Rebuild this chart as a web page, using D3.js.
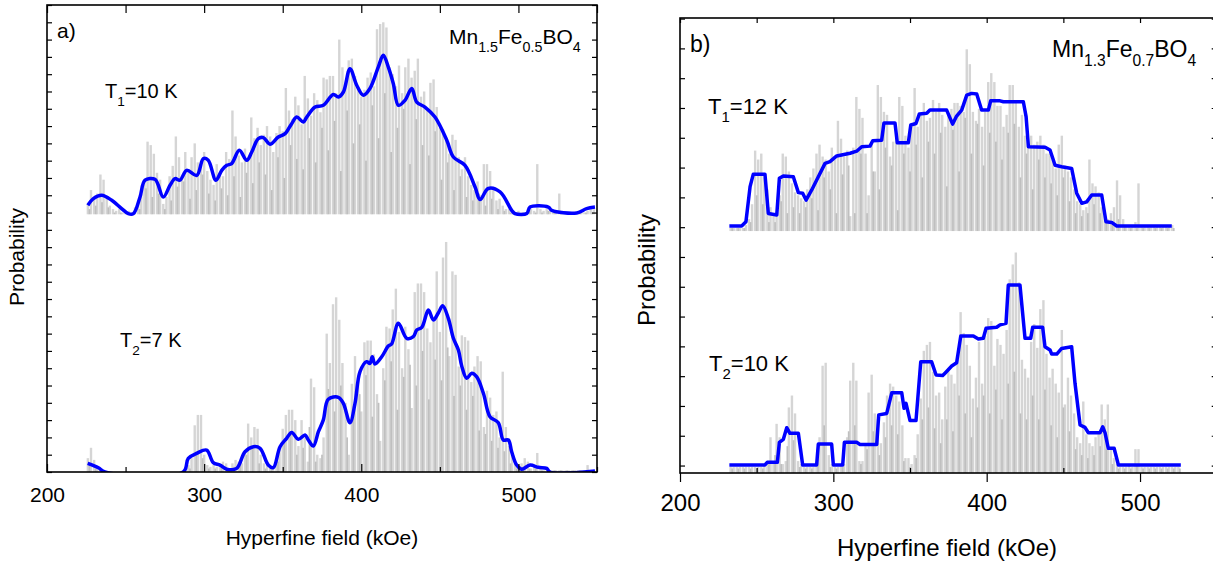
<!DOCTYPE html>
<html>
<head>
<meta charset="utf-8">
<script src="https://cdn.jsdelivr.net/npm/d3@7"></script>
<style>
  body { margin: 0; background: #fff; }
  text { font-family: "Liberation Sans", Arial, sans-serif; fill: #000; }
</style>
</head>
<body>
<svg id="chart" width="1213" height="562"></svg>
<script>
// ---------- panel a) Mn1.5Fe0.5BO4 ----------
// bar heights in tick units, light bars every 2 kOe, dark bars every 4 kOe
const aT1BarStart = 226;
const aT1Bars = [
  0.6,1.4,0.9,1.2,2.3,2.0,1.0,0.5,0.3,0.2,
  0.3,0.1,0.1,0.2,0.1,0.4,0.8,1.2,2.0,4.2,
  4.0,3.5,2.4,2.0,0.6,1.0,2.2,2.8,4.5,3.3,
  2.2,3.6,2.6,3.3,4.1,3.0,3.1,3.6,2.5,2.0,
  1.7,2.9,2.4,2.2,3.6,3.2,6.0,4.5,3.4,3.0,
  3.8,3.2,5.6,4.4,5.0,4.0,4.6,5.1,4.5,3.6,
  4.7,5.1,4.8,7.3,6.0,5.5,6.8,6.3,5.2,8.0,
  6.7,5.7,7.0,6.6,5.9,7.9,7.8,8.0,8.0,7.0,
  10.1,8.5,7.6,8.9,9.0,8.0,7.2,6.8,7.2,7.9,
  8.2,7.4,10.7,11.0,11.1,10.8,8.5,8.1,7.4,8.6,
  7.0,8.5,9.0,7.9,8.3,9.0,6.8,7.1,6.0,7.6,
  7.8,6.2,5.0,4.9,4.4,3.5,4.6,4.3,3.3,2.6,
  3.3,2.2,1.7,1.4,1.9,1.1,2.9,2.9,2.5,1.6,
  0.8,0.9,0.5,0.3,0.3,0.1,0.1,0.2,0.1,0.1,
  0.2,0.3,0.2,2.9,0.3,0.2,0.3,0.2,0.1,0.1,
  1.2,0.1,0.1,0.1,0.1,0.1,0.1,0.2,0.1,0.2,
  0.3,0.3
];
const aT1DarkStart = 227;
const aT1Dark = [
  0.3,0.5,0.7,0.4,0.1,0.1,0.1,0.1,0.3,1.5,
  1.0,1.2,0.3,0.8,1.6,1.9,0.9,1.4,2.3,1.2,
  0.8,1.5,1.1,2.2,1.0,2.4,1.8,3.0,2.3,1.4,
  3.3,2.1,4.0,3.2,2.6,4.4,3.0,5.0,3.7,5.4,
  2.5,6.0,4.1,5.2,3.1,6.3,4.4,7.0,3.6,5.0,
  6.1,2.9,5.5,4.0,3.4,4.8,2.0,3.0,1.4,2.2,
  1.0,0.8,1.2,0.5,0.9,0.3,0.2,0.1,0.1,0.1,
  0.2,0.1,0.1,0.2,0.1,0.1,0.1,0.1,0.1,0.1,
  0.1
];
const aT1LineField = [226,229.5,234.8,241.2,247.5,251.7,255,259.2,262.4,268.7,274,278.3,281.5,284.6,288.9,295.3,299.5,302.6,307.5,311.2,314.4,317.5,322.4,327.1,330.3,334.5,337.7,341.9,347.2,351.5,355.7,358.9,363.1,365.3,370.6,375.8,382.2,385.4,388.6,392.8,397.1,401.3,405.5,410.8,414,417.2,420.4,423.6,427.8,432.1,435.3,440.5,446.9,454.4,458.6,466,472.4,475.6,480.8,488.3,495.7,497.8,505.3,507.4,519,521.2,537.1,543.4,548.7];
const aT1Line = [0.52,0.91,1.1,0.81,0.33,0.04,0.04,1.0,1.97,2.02,1.0,1.68,2.06,1.97,2.54,2.25,3.22,3.12,1.97,2.54,2.83,2.93,3.7,3.12,3.6,4.38,4.43,4.05,4.47,4.66,5.24,5.62,5.34,5.62,6.2,6.3,6.93,6.78,7.07,8.42,7.46,6.88,7.27,8.51,9.19,8.51,7.55,6.3,6.59,7.27,6.49,6.2,5.62,4.28,3.31,2.83,1.58,0.85,1.49,1.29,0.23,0.04,0.04,0.42,0.42,0.23,0.08,0.33,0.42];

const aT2BarStart = 226;
const aT2Bars = [
  0.8,1.4,0.7,0.3,0.1,0,0,0,0,0,
  0,0,0,0,0,0,0,0,0,0,
  0,0,0,0,0,0,0,0,0,0,
  0,0.2,0.4,0.8,2.7,3.3,3.3,1.0,0.4,0.3,
  0.4,0.3,0.4,0.6,0.5,0.2,0.5,0.7,0.6,0.5,
  1.2,2.8,2.0,2.6,2.5,1.0,0.5,0.4,0.4,0.3,
  0.7,1.4,2.5,3.3,3.6,3.6,3.0,1.5,3.0,2.0,
  0.6,5.4,4.9,1.0,0.8,2.0,8.0,6.3,9.7,10.1,
  8.8,6.3,4.0,1.0,5.1,6.7,5.6,3.5,7.5,7.6,
  7.6,6.8,4.5,1.8,6.0,8.4,8.3,9.4,10.6,8.1,
  6.0,8.4,7.1,3.7,10.4,10.9,10.9,10.4,8.3,7.5,
  8.7,11.6,8.1,12.4,13.3,6.7,11.6,11.4,6.1,7.9,
  7.8,7.6,5.2,6.1,6.7,6.4,2.6,4.7,4.3,3.3,
  3.5,2.0,5.8,2.6,1.5,1.1,0.6,0.3,0.5,0.8,
  0.6,0.2,0.4,1.1,0.3,0.1,0.1,0.1,0.1,0.1,
  0.1,0.1,0.1,0.1,0.1,0.1,0.1,0.1,0.1,0.4,
  0.1,0.1
];
const aT2DarkStart = 227;
const aT2Dark = [
  0.4,0.2,0,0,0,0,0,0,0,0,
  0,0,0,0,0,0,0.2,1.2,0.8,0.2,
  0.2,0.3,0.2,0.3,0.4,1.0,1.5,0.5,0.2,0.2,
  0.6,1.8,2.2,1.0,1.4,2.6,0.6,1.0,4.8,3.5,
  5.0,2.0,3.8,4.5,5.6,3.2,4.0,5.3,6.4,3.6,
  5.5,6.2,5.0,7.0,4.2,6.5,5.3,7.2,4.4,5.0,
  3.6,4.4,2.4,2.2,1.8,1.4,1.2,0.5,0.2,0.3,
  0.2,0.2,0.1,0.1,0.1,0.1,0.1,0.1,0.1,0.1,
  0.1
];
const aT2LineField = [225.9,232.7,236.9,286.7,289.9,295.3,301.6,305.8,310.1,314.4,320.7,326,331.3,335.6,340.8,344,348.3,352.5,355.7,359.9,364.2,366.3,369.5,372.7,375.8,379,385.4,388.6,392.8,396,399.2,403.4,405.5,407,408.7,413,417.2,419.3,423.6,428.9,433.1,435.3,438.5,442.7,445.9,449.1,451.8,455.4,458.6,461.8,463.9,467.1,470.3,473.5,477.7,481.9,487.2,490.4,493.6,495.7,498.9,502.1,507.4,512.7,518,520.1,548.7];
const aT2Line = [0.5,0.25,0,0,0.79,1.08,1.27,0.54,0.4,0.16,0.21,1.17,1.46,1.37,0.4,0.25,1.46,1.95,2.29,1.89,2.14,1.85,1.5,2.33,3.0,4.2,4.32,3.97,2.85,3.97,5.8,6.38,6.28,6.66,6.24,6.66,7.28,7.4,8.6,7.73,7.82,8.21,8.36,9.36,8.79,9.21,9.61,8.88,7.73,7.05,6.13,5.42,5.71,5.5,4.55,3.2,2.85,1.85,1.85,1.17,0.4,0.16,0.4,0.27,0.21,0,0.06];

// ---------- panel b) Mn1.3Fe0.7BO4 ----------
const bT1BarStart = 233;
const bT1Bars = [
  0.1,0.1,0.1,0.1,0.1,0.2,0.4,0.9,2.7,2.4,
  2.6,1.8,1.4,0.8,0.5,0.5,1.2,2.6,2.5,2.0,
  1.6,1.3,1.2,1.1,1.0,1.4,1.8,2.1,2.6,2.9,
  2.5,2.4,2.0,2.8,2.4,3.7,3.1,2.5,2.7,0.5,
  2.8,4.5,4.1,3.8,2.6,1.2,3.0,2.0,4.9,4.5,
  4.0,3.9,2.5,3.0,3.2,4.5,4.2,3.2,2.8,3.6,
  4.8,3.5,3.9,4.3,3.7,3.8,4.4,4.0,4.3,3.9,
  3.5,3.9,4.1,4.3,4.3,4.2,4.0,6.1,5.6,4.0,
  3.7,4.1,3.5,4.0,5.0,5.3,5.0,4.2,4.2,3.5,
  3.9,4.9,4.9,4.3,3.5,3.9,3.2,3.0,3.2,2.9,
  3.0,3.2,2.9,2.6,2.6,2.4,2.1,2.9,3.2,2.2,
  2.0,1.8,1.4,1.0,0.9,0.7,0.8,2.4,1.6,1.5,
  1.3,0.8,0.5,0.4,0.6,0.8,1.7,1.2,0.4,0.2,
  0.2,0.2,0.3,1.6,0.2,0.2,0.2,0.2,0.2,0.2,
  0.2,0.2,0.2,0.2,0.2
];
const bT1DarkStart = 234;
const bT1Dark = [
  0.1,0.1,0.1,0.3,1.2,0.9,0.3,0.3,1.0,0.6,
  0.8,0.6,0.8,1.1,0.7,1.8,1.4,0.6,1.9,2.2,
  0.6,2.6,0.6,2.0,1.4,2.8,2.2,0.7,2.6,2.0,
  2.9,1.8,3.0,2.6,3.3,1.5,3.4,2.0,3.8,2.6,
  3.6,2.2,3.3,3.0,2.4,3.3,3.6,1.8,2.6,1.4,
  2.4,1.8,1.6,1.2,1.8,1.0,0.6,0.5,0.6,0.9,
  0.6,0.3,0.3,0.4,0.2,0.1,0.1,0.1,0.1,0.1,
  0.1,0.1,0.1
];
const bT1LineField = [232.2,240.2,243,245.7,247.8,255.4,257.6,263.1,264.8,267.4,273.9,277.2,280,282.2,285.9,290.2,294.6,297.8,302.2,310.9,315.2,318.5,323.9,325.7,331.5,333,340.2,341.7,348.9,350.5,353.9,356.1,360.9,363,373.9,377.8,380.4,383.7,387,390.2,393.5,396.7,401.1,402.6,408.7,410.9,423.9,425.7,427.2,438.1,441.3,444.6,448.9,455.4,458.7,462,465.2,468.5,475,477.8,481.5,484.8,520.7];
const bT1Line = [0.17,0.17,0.31,1.49,1.91,1.91,0.59,0.54,1.77,1.85,1.82,1.29,1.27,1.04,1.38,1.82,2.27,2.33,2.52,2.61,2.68,2.83,2.85,3.03,3.05,3.63,3.63,2.96,2.96,3.56,3.61,3.93,3.95,4.06,4.06,3.59,3.86,4.06,4.56,4.62,4.6,4.06,4.06,4.37,4.37,4.34,4.34,3.84,2.83,2.81,2.72,2.21,2.16,2.1,1.27,0.93,0.98,1.21,1.21,0.31,0.29,0.17,0.17];

const bT2BarStart = 233;
const bT2Bars = [
  0.2,0.2,0.2,0.2,0.2,0.2,0.2,0.2,0.2,0.2,
  0.2,0.3,0.3,1.2,0.4,1.65,1.2,0.3,0.4,2.2,
  2.6,2.0,0.4,0.3,0.2,0.2,0.2,0.2,0.3,1.2,
  3.6,3.7,0.6,0.3,0.2,0.2,0.3,0.3,1.2,3.1,
  3.7,3.1,0.4,0.4,1.0,2.7,3.3,2.0,1.8,1.0,
  1.7,2.6,3.0,2.9,2.6,2.4,1.6,0.5,0.5,0.3,
  0.6,1.3,2.5,4.1,4.3,4.4,3.4,2.6,2.7,1.8,
  2.9,3.5,3.3,3.0,3.8,5.4,4.7,4.3,3.6,2.5,
  3.2,4.4,3.0,4.6,5.2,5.1,3.6,4.5,4.3,4.0,
  4.8,6.5,7.0,7.4,6.4,3.8,3.5,3.2,4.4,5.0,
  4.2,5.5,5.8,4.0,3.2,3.5,3.0,2.7,4.8,2.3,
  3.2,2.6,2.0,1.2,1.0,2.4,1.3,1.0,0.9,1.2,
  1.4,2.3,1.8,2.3,0.8,0.5,0.3,0.2,0.2,0.2,
  0.3,0.2,0.8,0.8,0.2,0.2,0.2,0.2,0.2,0.2,
  0.2,0.2,0.2,0.2,0.2,0.2,0.2
];
const bT2DarkStart = 234;
const bT2Dark = [
  0.15,0.15,0.15,0.15,0.15,0.15,0.3,0.6,0.3,0.9,
  1.1,0.2,0.15,0.15,0.5,1.6,0.2,0.15,0.2,1.4,
  1.6,0.3,0.8,1.4,0.6,1.2,1.6,1.3,0.4,0.2,
  0.5,1.8,2.2,1.5,1.0,1.8,1.4,2.6,2.0,1.2,
  2.2,2.6,2.0,2.8,1.8,3.0,3.4,2.0,1.8,2.6,
  1.8,2.8,1.6,1.2,2.2,1.4,0.8,0.6,0.5,0.6,
  0.9,0.8,0.3,0.15,0.15,0.15,0.3,0.15,0.15,0.15,
  0.15,0.15,0.15,0.15
];
const bT2LineField = [232.2,255.4,256.9,263.5,264.8,267.4,269.6,271.7,277.2,280,289.1,290.2,298.9,300,306.1,307.2,315.2,317.4,328.3,329.6,334.8,338.1,344.6,346.1,347.4,350,353.9,357,364.1,367,371.3,372.8,377.2,380.4,383.1,391.3,394.6,397.8,399.6,406.5,408.7,412.6,414.1,421.7,425,428.7,430,436.5,438,441.3,442.4,445.7,448.9,455.4,457.6,460.9,464.1,466.3,473.9,475.7,477.2,479.3,483.1,485.9,526.6];
const bT2Line = [0.27,0.27,0.36,0.36,1.03,1.13,1.52,1.33,1.33,0.27,0.27,0.97,0.97,0.27,0.27,1.03,1.03,0.96,0.96,1.95,2.0,2.69,2.69,2.17,2.34,1.76,1.76,3.73,3.73,3.29,3.27,3.35,3.59,3.7,4.6,4.6,4.5,4.52,4.86,4.89,4.97,5.02,6.31,6.31,4.52,4.52,4.89,4.89,4.24,4.13,3.99,3.99,4.18,4.24,3.01,1.61,1.53,1.35,1.35,1.55,1.35,0.83,0.83,0.27,0.27];

const xTickLabels = [200, 300, 400, 500];

const svg = d3.select("#chart");

function subText(g, x, y, size, parts, opts = {}) {
  const t = g.append("text")
    .attr("x", x).attr("y", y)
    .attr("font-size", size)
    .attr("text-anchor", opts.anchor || "start");
  let down = false;
  parts.forEach(([str, sub]) => {
    const shift = size * 0.38;
    const dy = sub && !down ? shift : !sub && down ? -shift : 0;
    t.append("tspan").attr("dy", dy).attr("font-size", sub ? size * 0.68 : size).text(str);
    down = !!sub;
  });
  return t;
}

function drawPanel(p) {
  const g = svg.append("g");
  const x = d3.scaleLinear().domain([200, 550]).range(p.xRange);
  const y = d3.scaleLinear().domain(p.yDomain).range(p.yRange);
  const [x0, x1] = p.xRange, [yb, yt] = p.yRange;

  g.append("clipPath").attr("id", "clip-" + p.id)
    .append("rect").attr("x", x0).attr("y", yt).attr("width", x1 - x0).attr("height", yb - yt);
  const plot = g.append("g").attr("clip-path", `url(#clip-${p.id})`);

  p.spectra.forEach((s) => {
    const base = y(s.offset);
    const bars = (vals, start, step, w, color) => {
      plot.append("g").selectAll("rect").data(vals).join("rect")
        .attr("x", (d, i) => x(start + i * step) - w / 2)
        .attr("width", w)
        .attr("y", (d) => y(s.offset + d))
        .attr("height", (d) => base - y(s.offset + d))
        .attr("fill", color);
    };
    bars(s.bars, s.barStart, 2, 2.4, "#d5d5d5");
    bars(s.dark, s.darkStart, 4, 1.7, "#bfbfbf");

    const pts = s.lineField.map((f, i) => [f, s.line[i]]);
    plot.append("path").datum(pts)
      .attr("fill", "none")
      .attr("stroke", "#0000ff")
      .attr("stroke-width", 3.5)
      .attr("stroke-linejoin", "round")
      .attr("d", d3.line()
        .x((d) => x(d[0]))
        .y((d) => y(s.offset + d[1]))
        .curve(p.smooth ? d3.curveCatmullRom.alpha(0.5) : d3.curveLinear));
  });

  // frame
  g.append("rect")
    .attr("x", x0).attr("y", yt).attr("width", x1 - x0).attr("height", yb - yt)
    .attr("fill", "none").attr("stroke", "#000").attr("stroke-width", 1.6);

  const clean = (sel) => { sel.select(".domain").remove(); sel.selectAll("line").attr("stroke-width", 1.2); };

  // x ticks
  const minor = [250, 350, 450, 550];
  g.append("g").attr("transform", `translate(0,${yb})`)
    .call(d3.axisBottom(x).tickValues(xTickLabels).tickSizeInner(p.majorOut ? 9 : -8).tickSizeOuter(0).tickPadding(p.labelPad))
    .call(clean)
    .call((a) => a.selectAll("text").attr("font-size", p.tickFont).attr("font-family", null));
  g.append("g").attr("transform", `translate(0,${yb})`)
    .call(d3.axisBottom(x).tickValues(minor).tickSize(-5).tickFormat(""))
    .call(clean);
  g.append("g").attr("transform", `translate(0,${yt})`)
    .call(d3.axisTop(x).tickValues(xTickLabels.concat(minor)).tickSize(p.majorOut ? -5 : -8).tickFormat(""))
    .call(clean);

  // y ticks (no labels)
  g.append("g").attr("transform", `translate(${x0},0)`)
    .call(d3.axisLeft(y).tickValues(p.yTicks).tickSize(-5).tickFormat(""))
    .call(clean);
  g.append("g").attr("transform", `translate(${x1},0)`)
    .call(d3.axisRight(y).tickValues(p.yTicks).tickSize(-5).tickFormat(""))
    .call(clean);

  // titles
  g.append("text")
    .attr("x", p.titleX).attr("y", p.titleY)
    .attr("text-anchor", "middle").attr("font-size", p.titleFont)
    .text("Hyperfine field (kOe)");
  g.append("text")
    .attr("transform", `translate(${p.probX},${p.probY}) rotate(-90)`)
    .attr("text-anchor", "middle").attr("font-size", p.titleFont)
    .text("Probability");
  g.append("text").attr("x", p.tag[0]).attr("y", p.tag[1])
    .attr("font-size", p.tagFont).text(p.tagText);
  subText(g, p.formula[0], p.formula[1], p.tagFont, p.formulaParts);
  p.spectra.forEach((s) => subText(g, s.label[0], s.label[1], p.labelFont, s.labelParts));
}

drawPanel({
  id: "a",
  xRange: [47, 597], yRange: [472, 5], yDomain: [0, 27],
  yTicks: d3.range(0, 28),
  smooth: true, majorOut: false, labelPad: 15,
  tickFont: 21, titleFont: 21, tagFont: 21, labelFont: 20,
  titleX: 322, titleY: 545, probX: 24, probY: 257,
  tag: [57, 38], tagText: "a)",
  formula: [449, 44],
  formulaParts: [["Mn"], ["1.5", true], ["Fe"], ["0.5", true], ["BO"], ["4", true]],
  spectra: [
    { offset: 14.9, barStart: aT1BarStart, bars: aT1Bars, darkStart: aT1DarkStart, dark: aT1Dark,
      lineField: aT1LineField, line: aT1Line, label: [105, 98], labelParts: [["T"], ["1", true], ["=10 K"]] },
    { offset: 0, barStart: aT2BarStart, bars: aT2Bars, darkStart: aT2DarkStart, dark: aT2Dark,
      lineField: aT2LineField, line: aT2Line, label: [120, 347], labelParts: [["T"], ["2", true], ["=7 K"]] }
  ]
});

drawPanel({
  id: "b",
  xRange: [680, 1216.7], yRange: [473, 18], yDomain: [0, 15.27],
  yTicks: d3.range(0.25, 15.27, 1),
  smooth: false, majorOut: true, labelPad: 12,
  tickFont: 24, titleFont: 24, tagFont: 23, labelFont: 22,
  titleX: 947, titleY: 556, probX: 655, probY: 270,
  tag: [690, 52], tagText: "b)",
  formula: [1052, 57],
  formulaParts: [["Mn"], ["1.3", true], ["Fe"], ["0.7", true], ["BO"], ["4", true]],
  spectra: [
    { offset: 8.12, barStart: bT1BarStart, bars: bT1Bars, darkStart: bT1DarkStart, dark: bT1Dark,
      lineField: bT1LineField, line: bT1Line, label: [708, 114], labelParts: [["T"], ["1", true], ["=12 K"]] },
    { offset: 0, barStart: bT2BarStart, bars: bT2Bars, darkStart: bT2DarkStart, dark: bT2Dark,
      lineField: bT2LineField, line: bT2Line, label: [709, 371], labelParts: [["T"], ["2", true], ["=10 K"]] }
  ]
});
</script>
</body>
</html>
